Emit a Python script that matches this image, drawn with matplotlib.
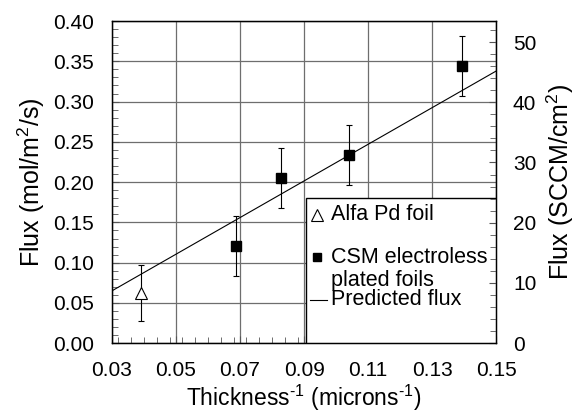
import matplotlib
matplotlib.use("Agg")
import matplotlib.pyplot as plt
from matplotlib.patches import Rectangle
from matplotlib.ticker import MultipleLocator

plt.rcParams["font.family"] = ["Liberation Sans", "DejaVu Sans"]
plt.rcParams["mathtext.fontset"] = "custom"
plt.rcParams["mathtext.rm"] = "Liberation Sans"
plt.rcParams["mathtext.it"] = "Liberation Sans"

# data
alfa_x = [0.0392]
alfa_y = [0.062]
alfa_err = [0.035]

csm_x = [0.0687, 0.0827, 0.104, 0.1392]
csm_y = [0.121, 0.205, 0.234, 0.344]
csm_err = [0.037, 0.037, 0.037, 0.037]

pred_x = [0.03, 0.15]
pred_y = [0.065, 0.338]

x_ticks = [0.03, 0.05, 0.07, 0.09, 0.11, 0.13, 0.15]
y_ticks = [0.00, 0.05, 0.10, 0.15, 0.20, 0.25, 0.30, 0.35, 0.40]
right_ticks = [0, 10, 20, 30, 40, 50]
sccm_per_flux = 133.7

fig = plt.figure(figsize=(5.77, 4.13), dpi=100)
ax = fig.add_axes([0.194, 0.169, 0.666, 0.780])

ax.plot(pred_x, pred_y, color="black", lw=0.8, zorder=4)
ax.errorbar(alfa_x, alfa_y, yerr=alfa_err, fmt="^", ms=9, mfc="white",
            mec="black", mew=0.8, ecolor="black", elinewidth=0.8,
            capsize=2.5, capthick=0.8, zorder=5)
ax.errorbar(csm_x, csm_y, yerr=csm_err, fmt="s", ms=7.5, mfc="black",
            mec="black", ecolor="black", elinewidth=0.8,
            capsize=2.5, capthick=0.8, zorder=5)

ax.set_xlim(0.03, 0.15)
ax.set_ylim(0.0, 0.40)
ax.set_xticks(x_ticks)
ax.set_xticklabels([f"{v:.2f}" for v in x_ticks])
ax.set_yticks(y_ticks)
ax.set_yticklabels([f"{v:.2f}" for v in y_ticks])
ax.xaxis.set_minor_locator(MultipleLocator(0.004))
ax.yaxis.set_minor_locator(MultipleLocator(0.01))
ax.grid(True, which="major", color="#6e6e6e", lw=0.9, zorder=1)
ax.set_axisbelow(True)
ax.tick_params(axis="both", which="both", direction="in", top=False,
               right=False, labelsize=15, color="#555555")
ax.tick_params(axis="x", which="major", length=5, pad=13)
ax.tick_params(axis="y", which="major", length=5, pad=13)
ax.tick_params(which="minor", length=4)
for sp in ax.spines.values():
    sp.set_linewidth(1.0)

ax.set_xlabel(r"Thickness$^{\text{-1}}$ (microns$^{\text{-1}}$)", fontsize=16.5,
              va="top")
ax.xaxis.set_label_coords(0.5, -0.124)
ax.set_ylabel("Flux (mol/m$^2$/s)", fontsize=18, labelpad=4)

ax2 = ax.twinx()
ax2.set_ylim(0.0, 0.40 * sccm_per_flux)
ax2.set_yticks(right_ticks)
ax2.set_yticklabels([str(v) for v in right_ticks])
ax2.yaxis.set_minor_locator(MultipleLocator(2))
ax2.tick_params(axis="y", which="both", direction="in", labelsize=15,
                color="#555555", pad=12)
ax2.tick_params(axis="y", which="major", length=5)
ax2.tick_params(axis="y", which="minor", length=4)
ax2.set_ylabel("Flux (SCCM/cm$^2$)", fontsize=18, labelpad=6)

# legend box
ax.add_patch(Rectangle((0.504, 0.0), 0.496, 0.452, transform=ax.transAxes,
                       facecolor="white", edgecolor="black", lw=1.0,
                       zorder=6))
ax.plot([0.534], [0.398], marker="^", ms=8, mfc="white", mec="black",
        mew=0.8, transform=ax.transAxes, zorder=7, clip_on=False)
ax.plot([0.534], [0.267], marker="s", ms=6, color="black",
        transform=ax.transAxes, zorder=7, clip_on=False)
ax.plot([0.516, 0.560], [0.134, 0.134], color="black", lw=0.8,
        transform=ax.transAxes, zorder=7)
lkw = dict(transform=ax.transAxes, fontsize=15.5, va="center", ha="left",
           zorder=7)
ax.text(0.570, 0.398, "Alfa Pd foil", **lkw)
ax.text(0.570, 0.267, "CSM electroless", **lkw)
ax.text(0.570, 0.196, "plated foils", **lkw)
ax.text(0.570, 0.137, "Predicted flux", **lkw)

fig.savefig("out.png", dpi=100)
